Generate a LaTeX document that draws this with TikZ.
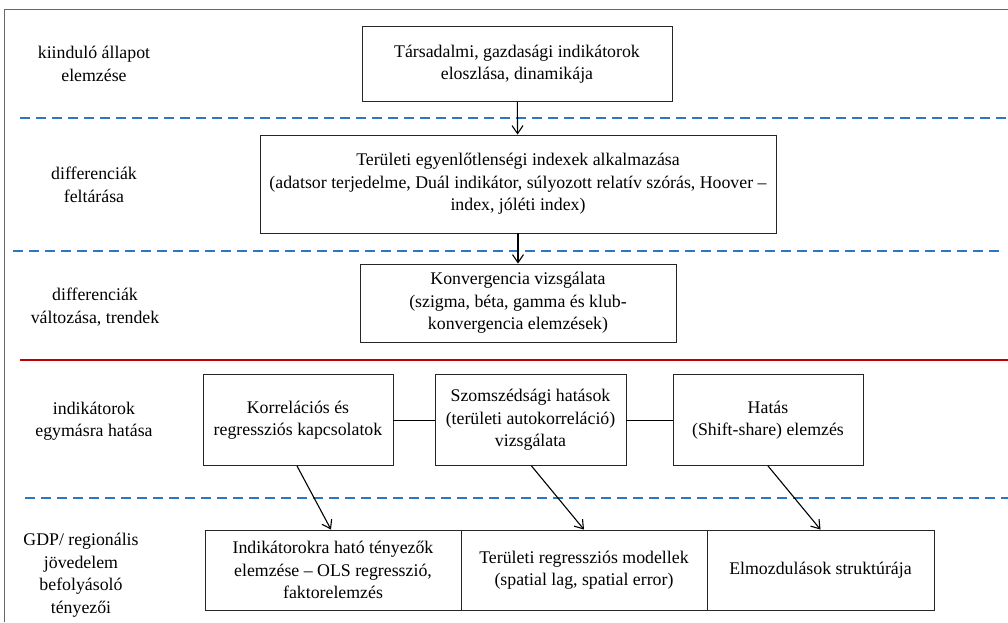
\documentclass[tikz,border=0pt]{standalone}
\usepackage{fontspec}
\setmainfont{Liberation Serif}
\usetikzlibrary{arrows.meta}
\definecolor{sepblue}{RGB}{46,117,196}
\definecolor{sepred}{RGB}{192,0,0}
\begin{document}
\begin{tikzpicture}[x=1pt,y=-1pt,
    every node/.style={font=\fontsize{17.8}{22.5}\selectfont, align=center, inner sep=0pt},
    box/.style={draw=black!85, line width=0.9pt, minimum height=#1},
    sep/.style={sepblue, line width=2.4pt, dash pattern=on 10pt off 6pt},
    arr/.style={-{Straight Barb[length=8pt,width=11pt]}, line width=1.1pt}]
  \useasboundingbox (0,0) rectangle (1008,622);
  \draw[black!60, line width=1pt] (4,622) -- (4,9) -- (1008,9);
  % separators
  \draw[sep] (20,118) -- (1008,118);
  \draw[sep] (13,251) -- (1003,251);
  \draw[sepred, line width=2.6pt] (20,360) -- (1008,360);
  \draw[sep] (25,498) -- (1008,498);
  % row labels
  \draw
    (94,64) node (l0){kiinduló állapot\\elemzése}
    (94,185) node (l1){differenciák\\feltárása}
    (95,307) node (l2){differenciák\\változása, trendek}
    (94,421) node (l3){indikátorok\\egymásra hatása}
    (81,575) node (l4){GDP/ regionális\\jövedelem\\befolyásoló\\tényezői};
  % boxes
  \draw
    (517,64) node[box=75pt, minimum width=310pt] (0){Társadalmi, gazdasági indikátorok\\eloszlása, dinamikája}
    (518,184) node[box=98pt, minimum width=516pt] (1){Területi egyenlőtlenségi indexek alkalmazása\\(adatsor terjedelme, Duál indikátor, súlyozott relatív szórás, Hoover –\\index, jóléti index)}
    (518,303) node[box=78pt, minimum width=316pt] (2){Konvergencia vizsgálata\\(szigma, béta, gamma és klub-\\konvergencia elemzések)}
    (298,420) node[box=91pt, minimum width=190pt] (3){Korrelációs és\\regressziós kapcsolatok}
    (530.5,420) node[box=91pt, minimum width=191pt] (4){Szomszédsági hatások\\(területi autokorreláció)\\vizsgálata}
    (768,420) node[box=91pt, minimum width=190pt] (5){Hatás\\(Shift-share) elemzés}
    (333,570) node[box=80pt, minimum width=256pt] (6){Indikátorokra ható tényezők\\elemzése – OLS regresszió,\\faktorelemzés}
    (584,570) node[box=80pt, minimum width=246pt] (7){Területi regressziós modellek\\(spatial lag, spatial error)}
    (820.5,570) node[box=80pt, minimum width=227pt] (8){Elmozdulások struktúrája};
  \begin{scope}[arr]
    \draw (0) to (1);
    \draw (1) to (2);
    \draw ([xshift=-1pt]3.south) to ([xshift=-2pt]6.north);
    \draw ([xshift=1pt]4.south) to ([xshift=0pt]7.north);
    \draw (5.south) to ([xshift=0pt]8.north);
  \end{scope}
  \begin{scope}[-, line width=0.9pt]
    \draw (3) to (4);
    \draw (4) to (5);
  \end{scope}
\end{tikzpicture}
\end{document}
